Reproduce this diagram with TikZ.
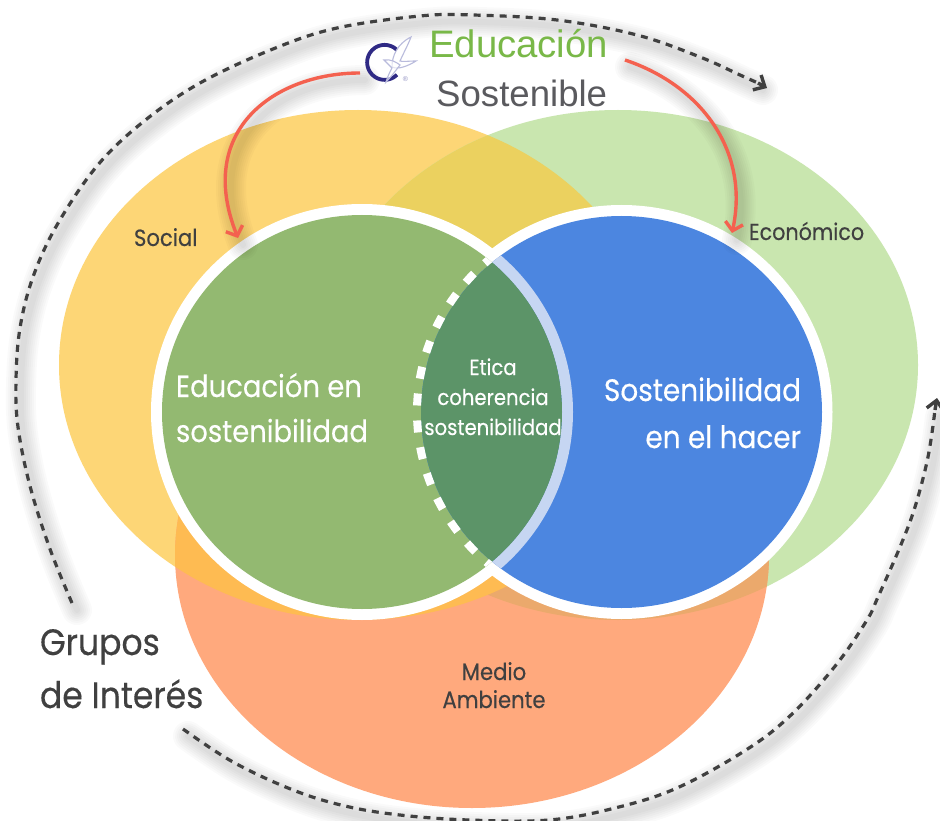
\documentclass[tikz,border=0pt]{standalone}
\usepackage{fontspec}
\setmainfont[FakeStretch=.9,FakeBold=.35]{Poppins}
\newfontfamily\headfont{Liberation Sans}
\usetikzlibrary{arrows.meta,calc}
\definecolor{cYellow}{HTML}{FDD676}
\definecolor{cLime}{HTML}{C9E6AF}
\definecolor{cOverlap}{HTML}{EBD15F}
\definecolor{cOrange}{HTML}{FFA97D}
\definecolor{cOrYe}{HTML}{FEBB52}
\definecolor{cOrLi}{HTML}{EBA96C}
\definecolor{cLeaf}{HTML}{93B971}
\definecolor{cBlue}{HTML}{4C86E0}
\definecolor{cLens}{HTML}{5C9468}
\definecolor{cPale}{HTML}{C6D6F2}
\definecolor{cRed}{HTML}{F4614F}
\definecolor{cDark}{HTML}{404040}
\definecolor{cHeadG}{HTML}{79B848}
\definecolor{cHeadD}{HTML}{5A5A5E}
\definecolor{cLogo}{HTML}{2F2A85}
\definecolor{cDove}{HTML}{B9BBDC}
\tikzset{
  labeltext/.style={inner sep=0pt,outer sep=0pt,text=cDark},
  whitetext/.style={inner sep=0pt,outer sep=0pt,text=white},
  dashline/.style={draw=cDark,line width=3.2pt,dash pattern=on 7pt off 6pt},
  dashtip/.style={draw=cDark,line width=3.4pt,-{Straight Barb[length=9pt,width=17pt,line width=3.4pt]}},
  redline/.style={draw=cRed,line width=3.4pt,-{Straight Barb[length=8pt,width=18pt,line width=3.4pt]}},
  softshadow/.style={draw=black,draw opacity=.02,line width=#1,line cap=round,transform canvas={shift={(5pt,-7pt)}}},
  x=1pt,y=-1pt
}
\newcommand\softpath[1]{%
  \foreach \w in {30pt,26pt,22pt,18pt,14pt,10pt,6pt}{\path[softshadow=\w] #1;}}
\newcommand\leftcurve{plot[smooth,tension=.6] coordinates {(leftStart) (50,549) (30,486) (18,427) (16,380) (20,328) (33,277) (57,225) (97,166) (143,122) (200,83) (273,49) (337,28) (420,16) (473,15) (557,20) (637,35) (700,57) (740,75) (leftStop)}}
\newcommand\botcurve{plot[smooth,tension=.6] coordinates {(botStart) (233,762) (293,790) (345,806) (400,815) (469,820) (549,820) (615,808) (677,788) (746,750) (791,715) (836,665) (867,620) (878,597) (900,547) (915,507) (928,457) (botStop)}}
\begin{document}
\begin{tikzpicture}
\useasboundingbox (0,0) rectangle (940,821);
\path[fill=white] (0,0) rectangle (940,821);
% coordinates
\coordinate (leftStart) at (72,603);
\coordinate (leftStop) at (758,83);
\coordinate (leftEnd) at (767,88);
\coordinate (botStart) at (183,729);
\coordinate (botStop) at (935,410);
\coordinate (botEnd) at (937,398);
\coordinate (logoL) at (360,73);
\coordinate (logoR) at (625,60);
\coordinate (socialTip) at (238,238);
\coordinate (economTip) at (732,233);
% shadows of the outer lines
\softpath{\leftcurve}
\softpath{\botcurve}
% ellipses
\def\yel{(358,365) ellipse [x radius=299,y radius=255]}
\def\lim{(618,365) ellipse [x radius=300,y radius=255]}
\def\ora{(472,555) ellipse [x radius=297,y radius=253]}
\fill[cYellow] \yel;
\fill[cLime] \lim;
\begin{scope}
  \clip \yel;
  \fill[cOverlap] \lim;
\end{scope}
\fill[cOrange] \ora;
\begin{scope}
  \clip \lim;
  \fill[cOrLi] \ora;
\end{scope}
\begin{scope}
  \clip \yel;
  \fill[cOrYe] \ora;
\end{scope}
% white rings
\fill[white] (362,412) ellipse [x radius=211,y radius=208];
\fill[white] (621.5,412) ellipse [x radius=211,y radius=207];
% discs
\fill[cLeaf] (362,412) ellipse [x radius=200,y radius=197];
\fill[cBlue] (621.5,412) ellipse [x radius=200.5,y radius=196];
% pale ring of the left disc over the blue disc
\begin{scope}
  \clip (621.5,412) ellipse [x radius=200.5,y radius=196];
  \draw[cPale,line width=11pt] (362,412) ellipse [x radius=205.5,y radius=202.5];
\end{scope}
% lens
\begin{scope}
  \clip (362,412) ellipse [x radius=200,y radius=197];
  \fill[cLens] (621.5,412) ellipse [x radius=200.5,y radius=196];
  \draw[white,line width=8pt,dash pattern=on 12pt off 15pt,dash phase=6pt]
    (621.5,412) ellipse [x radius=204.5,y radius=200];
\end{scope}
% outer dashed lines
\draw[dashline] \leftcurve;
\draw[dashtip] (leftStop) -- (leftEnd);
\draw[dashline] \botcurve;
\draw[dashtip] (botStop) -- (botEnd);
% red arrows
\softpath{(logoL) .. controls (275,73) and (195,130) .. (socialTip)}
\softpath{(logoR) .. controls (700,85) and (750,150) .. (economTip)}
\draw[redline] (logoL) .. controls (275,73) and (195,130) .. (socialTip);
\draw[redline] (logoR) .. controls (700,85) and (750,150) .. (economTip);
% logo
\draw[cLogo,line width=3.8pt] (397,50) arc [start angle=-45,end angle=-315,radius=17.5];
\draw[cDove,line width=1.1pt,fill=white,fill opacity=.6] (411,37) .. controls (397,44) and (392,56) .. (392,67) .. controls (398,70) and (408,66) .. (416,61) .. controls (408,61) and (403,62) .. (400,61) .. controls (404,52) and (408,45) .. (411,37) -- cycle;
\draw[cDove,line width=1.1pt,fill=white,fill opacity=.6] (384,60) .. controls (391,59) and (396,62) .. (400,65) .. controls (396,70) and (392,76) .. (386,82) .. controls (388,75) and (391,70) .. (392,68) .. controls (390,66) and (387,63) .. (384,60) -- cycle;
\node[inner sep=0pt,text=cDove!70!cLogo,font=\headfont\fontsize{7}{8}\selectfont] (reg) at (405.5,79) {®};
% titles
\node[inner sep=0pt,anchor=base west,text=cHeadG,font=\headfont\fontsize{38.3}{40}\selectfont] (title1) at (429,58) {Educación};
\node[inner sep=0pt,anchor=base west,text=cHeadD,font=\headfont\fontsize{36.6}{40}\selectfont] (title2) at (436,107) {Sostenible};
% labels
\node[labeltext,anchor=base west,font=\fontsize{23.5}{26}\selectfont] (social) at (134,246) {Social};
\node[labeltext,anchor=base west,font=\fontsize{23}{26}\selectfont] (economico) at (749,240) {Económico};
\node[labeltext,align=center,anchor=base,font=\fontsize{23.5}{28}\selectfont] (medio) at (494,708) {Medio\\Ambiente};
\node[whitetext,align=left,anchor=base west,font=\fontsize{30.5}{45}\selectfont] (educ) at (176,442) {Educación en\\sostenibilidad};
\node[whitetext,align=right,anchor=base east,font=\fontsize{31}{47}\selectfont] (sost) at (801,448) {Sostenibilidad\\en el hacer};
\node[whitetext,align=center,anchor=base,font=\fontsize{21.8}{30}\selectfont] (etica) at (493,435) {Etica\\coherencia\\sostenibilidad};
\node[labeltext,align=left,anchor=base west,font=\fontsize{36.7}{53}\selectfont] (grupos) at (40,708) {Grupos\\de Interés};
\end{tikzpicture}
\end{document}
